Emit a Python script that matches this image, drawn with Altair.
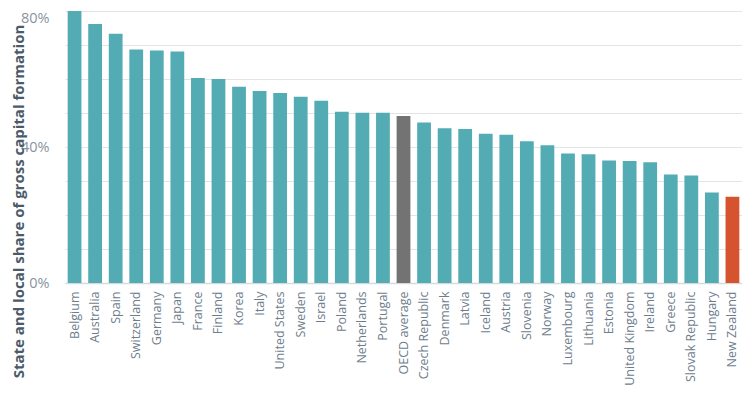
import altair as alt
import pandas as pd

countries = [
    "Belgium", "Australia", "Spain", "Switzerland", "Germany", "Japan", "France",
    "Finland", "Korea", "Italy", "United States", "Sweden", "Israel", "Poland",
    "Netherlands", "Portugal", "OECD average", "Czech Republic", "Denmark", "Latvia",
    "Iceland", "Austria", "Slovenia", "Norway", "Luxembourg", "Lithuania", "Estonia",
    "United Kingdom", "Ireland", "Greece", "Slovak Republic", "Hungary", "New Zealand",
]
shares = [
    82.0, 76.2, 73.3, 68.7, 68.4, 68.1, 60.3,
    60.0, 57.7, 56.5, 55.9, 54.8, 53.6, 50.4,
    50.1, 50.1, 49.1, 47.2, 45.5, 45.3,
    43.9, 43.6, 41.7, 40.5, 38.1, 37.9, 36.0,
    35.9, 35.5, 31.9, 31.6, 26.6, 25.4,
]
groups = ["Country"] * 16 + ["OECD"] + ["Country"] * 15 + ["New Zealand"]

group_names = ["Country", "OECD", "New Zealand"]
group_colors = ["#53ABB4", "#737373", "#D5542F"]
y_ticks = [0, 10, 20, 30, 40, 50, 60, 70, 80]

df = pd.DataFrame({"country": countries, "share": shares, "group": groups})

chart = (
    alt.Chart(df)
    .mark_bar(clip=True)
    .encode(
        x=alt.X(
            "country:N",
            sort=None,
            scale=alt.Scale(paddingInner=0.33, paddingOuter=0.13),
            axis=alt.Axis(
                title=None,
                labelAngle=-90,
                labelFontSize=12.5,
                labelFont="Open Sans",
                labelColor="#6e7d8c",
                labelPadding=8,
                labelOverlap=False,
                ticks=False,
                domainColor="#d6dadd",
                domainWidth=1.5,
            ),
        ),
        y=alt.Y(
            "share:Q",
            scale=alt.Scale(domain=[0, 80], nice=False),
            axis=alt.Axis(
                title="State and local share of gross capital formation",
                values=y_ticks,
                labelExpr="datum.value % 40 === 0 ? datum.value + '%' : ''",
                labelBaseline={
                    "condition": {"test": "datum.value >= 80", "value": "top"},
                    "value": "middle",
                },
                labelFontSize=14.5,
                labelFont="Open Sans",
                labelColor="#8a949e",
                labelPadding=16,
                ticks=False,
                domain=False,
                gridColor="#e4e4e4",
                gridWidth=1,
                titleFont="Open Sans",
                titleFontSize=15,
                titleFontWeight="bold",
                titleColor="#4b5a68",
                titleAngle=270,
                titleAlign="center",
                titleBaseline="middle",
                titleX=-46.5,
                titleY=190,
            ),
        ),
        color=alt.Color(
            "group:N",
            scale=alt.Scale(domain=group_names, range=group_colors),
            legend=None,
        ),
    )
    .properties(
        width=677,
        height=272,
        autosize=alt.AutoSizeParams(type="none"),
        padding={"left": 57, "top": 3, "right": 0, "bottom": 104},
    )
    .configure_view(stroke=None)
)

chart.save("out.html", embed_options={"renderer": "svg", "actions": False})
